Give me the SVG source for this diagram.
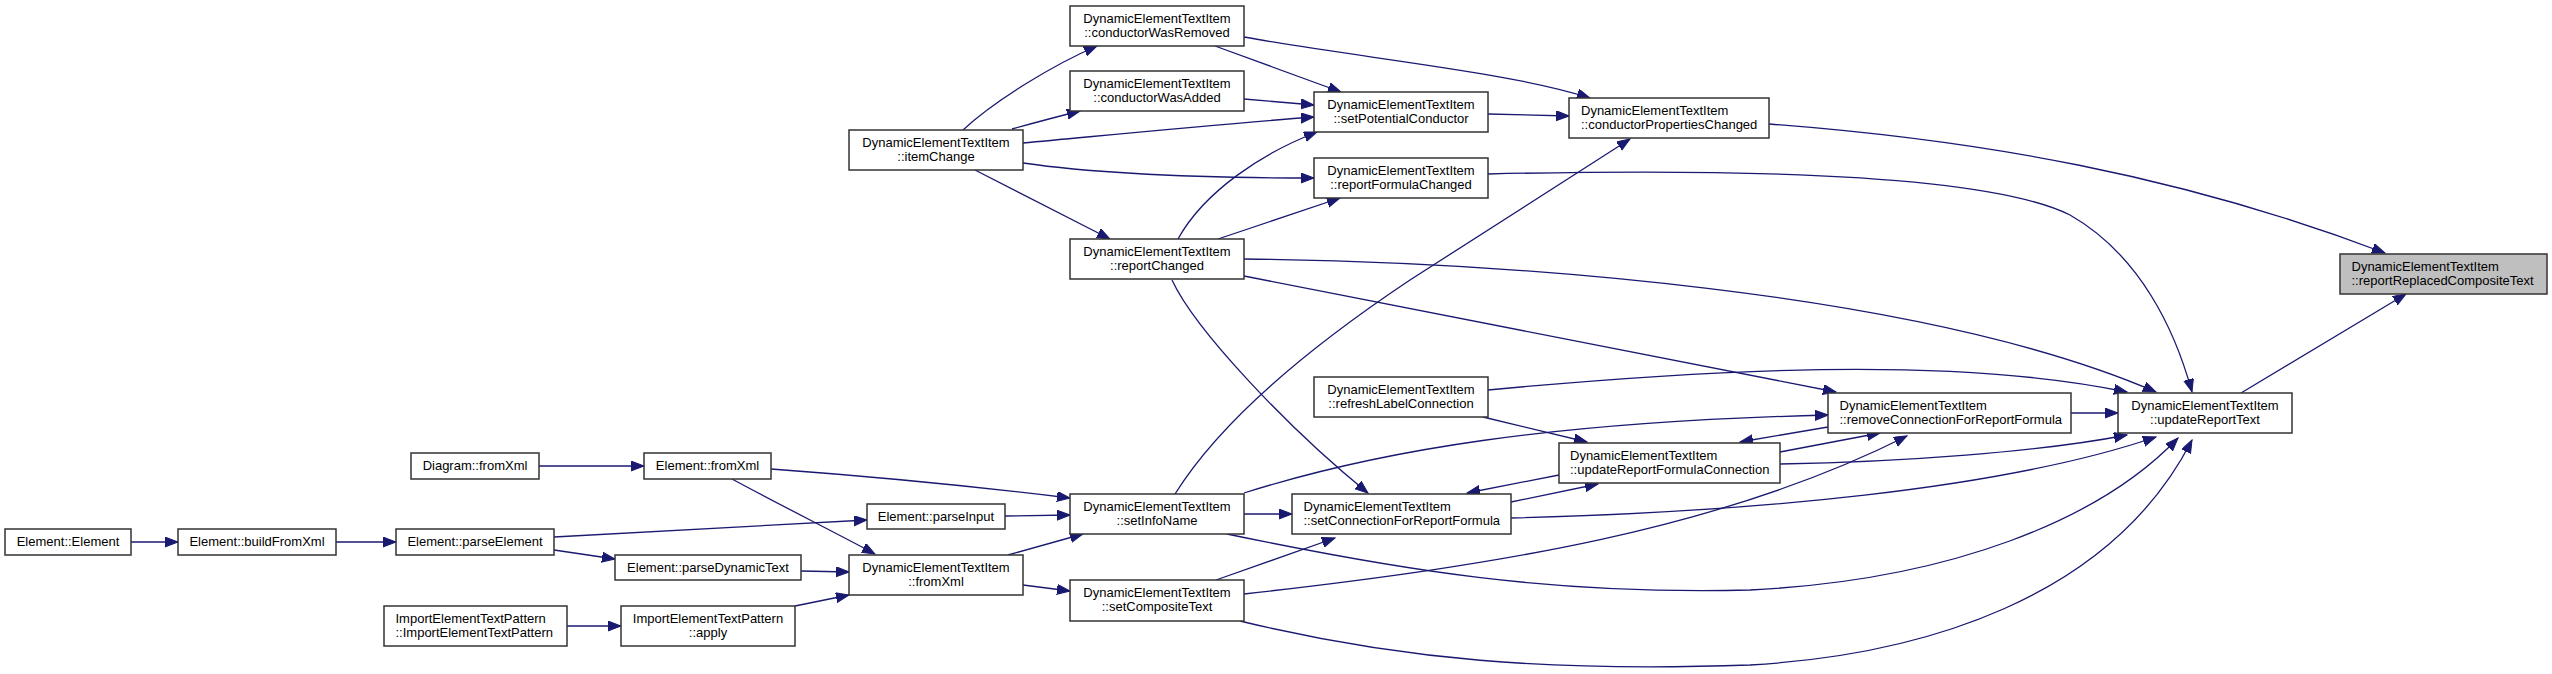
<svg xmlns="http://www.w3.org/2000/svg" width="2552" height="674" viewBox="0 0 2552 674">
<style>
.node rect{fill:#ffffff;stroke:#333333;stroke-width:1.5}
.node.hl rect{fill:#bfbfbf}
text{font-family:"Liberation Sans",Arial,Helvetica,sans-serif;font-size:13px;fill:#000000}
.c{text-anchor:middle}
.l{text-anchor:start}
.edges path{fill:none;stroke:#191970;stroke-width:1.3;marker-end:url(#arr)}
</style>
<defs>
<marker id="arr" markerUnits="userSpaceOnUse" markerWidth="14" markerHeight="11" refX="13" refY="5" orient="auto"><path d="M0,0 L13,5 L0,10 z" fill="#191970" stroke="#191970" stroke-width="1"/></marker>
</defs>
<rect x="0" y="0" width="2552" height="674" fill="#ffffff"/>
<g class="edges" id="edges">
<path d="M963,130 C995,100 1055,64 1097,46"/>
<path d="M1012,129 C1030,124 1060,116 1080,111"/>
<path d="M1023,143 C1120,134 1220,124 1314,117"/>
<path d="M1023,163 C1100,174 1200,178 1314,178"/>
<path d="M975,170 L1110,239"/>
<path d="M1215,46 L1341,92"/>
<path d="M1244,37 C1360,58 1510,72 1590,98"/>
<path d="M1244,99 L1314,105"/>
<path d="M1488,114 L1569,116"/>
<path d="M1178,239 C1205,190 1265,152 1317,132"/>
<path d="M1218,239 L1340,198"/>
<path d="M1244,259 C1500,262 1920,290 2156,392"/>
<path d="M1244,276 L1836,392"/>
<path d="M1172,280 C1195,330 1290,430 1368,493"/>
<path d="M1175,494 C1215,430 1290,360 1410,280 C1490,228 1560,184 1630,139"/>
<path d="M1488,174 C1750,168 1990,175 2070,215 C2140,255 2175,330 2192,392"/>
<path d="M1769,124 C1980,140 2180,175 2385,253"/>
<path d="M1488,390 C1700,370 1950,355 2127,392"/>
<path d="M1483,417 L1587,442"/>
<path d="M1244,493 C1380,450 1550,422 1828,415"/>
<path d="M1828,427 L1740,442"/>
<path d="M1780,452 L1880,433"/>
<path d="M1559,475 L1467,493"/>
<path d="M1511,502 L1598,484"/>
<path d="M1244,594 C1500,565 1720,530 1907,436"/>
<path d="M1511,518 C1750,512 2000,490 2156,437"/>
<path d="M1227,534 C1400,570 1550,595 1750,590 C1950,580 2100,520 2178,438"/>
<path d="M1240,621 C1400,660 1550,672 1750,665 C1920,655 2110,600 2192,440"/>
<path d="M1244,514 L1292,514"/>
<path d="M1216,580 L1335,538"/>
<path d="M771,469 C880,477 980,487 1070,498"/>
<path d="M732,479 C780,505 840,535 875,554"/>
<path d="M539,466 L644,466"/>
<path d="M131,542 L178,542"/>
<path d="M336,542 L396,542"/>
<path d="M554,537 L867,520"/>
<path d="M554,550 L615,559"/>
<path d="M1005,516 L1070,515"/>
<path d="M801,571 L849,572"/>
<path d="M567,626 L621,626"/>
<path d="M795,606 L849,595"/>
<path d="M1008,555 L1083,534"/>
<path d="M1023,585 L1070,591"/>
<path d="M2071,413 L2118,413"/>
<path d="M1780,464 C1900,462 2040,452 2127,435"/>
<path d="M2241,393 L2406,294"/>
</g>
<g id="n1" class="node"><rect x="1070" y="6" width="174" height="40"/><text class="c" x="1157" y="22.5">DynamicElementTextItem</text><text class="c" x="1157" y="37">::conductorWasRemoved</text></g>
<g id="n2" class="node"><rect x="1070" y="71" width="174" height="40"/><text class="c" x="1157" y="87.5">DynamicElementTextItem</text><text class="c" x="1157" y="102">::conductorWasAdded</text></g>
<g id="n3" class="node"><rect x="849" y="130" width="174" height="40"/><text class="c" x="936" y="146.5">DynamicElementTextItem</text><text class="c" x="936" y="161">::itemChange</text></g>
<g id="n4" class="node"><rect x="1314" y="92" width="174" height="40"/><text class="c" x="1401" y="108.5">DynamicElementTextItem</text><text class="c" x="1401" y="123">::setPotentialConductor</text></g>
<g id="n5" class="node"><rect x="1569" y="98" width="200" height="40"/><text class="l" x="1581" y="114.5">DynamicElementTextItem</text><text class="l" x="1581" y="129">::conductorPropertiesChanged</text></g>
<g id="n6" class="node"><rect x="1314" y="158" width="174" height="40"/><text class="c" x="1401" y="174.5">DynamicElementTextItem</text><text class="c" x="1401" y="189">::reportFormulaChanged</text></g>
<g id="n7" class="node"><rect x="1070" y="239" width="174" height="40"/><text class="c" x="1157" y="255.5">DynamicElementTextItem</text><text class="c" x="1157" y="270">::reportChanged</text></g>
<g id="n8" class="node hl"><rect x="2340" y="254" width="207" height="40"/><text class="l" x="2351.5" y="270.5">DynamicElementTextItem</text><text class="l" x="2351.5" y="285">::reportReplacedCompositeText</text></g>
<g id="n9" class="node"><rect x="1314" y="377" width="174" height="40"/><text class="c" x="1401" y="393.5">DynamicElementTextItem</text><text class="c" x="1401" y="408">::refreshLabelConnection</text></g>
<g id="n10" class="node"><rect x="1828" y="393" width="243" height="40"/><text class="l" x="1839.5" y="409.5">DynamicElementTextItem</text><text class="l" x="1839.5" y="424">::removeConnectionForReportFormula</text></g>
<g id="n11" class="node"><rect x="2118" y="393" width="174" height="40"/><text class="c" x="2205" y="409.5">DynamicElementTextItem</text><text class="c" x="2205" y="424">::updateReportText</text></g>
<g id="n12" class="node"><rect x="1559" y="443" width="221" height="40"/><text class="l" x="1570" y="459.5">DynamicElementTextItem</text><text class="l" x="1570" y="474">::updateReportFormulaConnection</text></g>
<g id="n13" class="node"><rect x="411" y="453" width="128" height="26"/><text class="c" x="475" y="470">Diagram::fromXml</text></g>
<g id="n14" class="node"><rect x="644" y="453" width="127" height="26"/><text class="c" x="707.5" y="470">Element::fromXml</text></g>
<g id="n15" class="node"><rect x="1070" y="494" width="174" height="40"/><text class="c" x="1157" y="510.5">DynamicElementTextItem</text><text class="c" x="1157" y="525">::setInfoName</text></g>
<g id="n16" class="node"><rect x="1292" y="494" width="219" height="40"/><text class="l" x="1303.5" y="510.5">DynamicElementTextItem</text><text class="l" x="1303.5" y="525">::setConnectionForReportFormula</text></g>
<g id="n17" class="node"><rect x="867" y="504" width="138" height="25"/><text class="c" x="936" y="521">Element::parseInput</text></g>
<g id="n18" class="node"><rect x="5" y="529" width="126" height="26"/><text class="c" x="68" y="546">Element::Element</text></g>
<g id="n19" class="node"><rect x="178" y="529" width="158" height="26"/><text class="c" x="257" y="546">Element::buildFromXml</text></g>
<g id="n20" class="node"><rect x="396" y="529" width="158" height="26"/><text class="c" x="475" y="546">Element::parseElement</text></g>
<g id="n21" class="node"><rect x="615" y="555" width="186" height="25"/><text class="c" x="708" y="572">Element::parseDynamicText</text></g>
<g id="n22" class="node"><rect x="849" y="555" width="174" height="40"/><text class="c" x="936" y="571.5">DynamicElementTextItem</text><text class="c" x="936" y="586">::fromXml</text></g>
<g id="n23" class="node"><rect x="1070" y="580" width="174" height="41"/><text class="c" x="1157" y="596.5">DynamicElementTextItem</text><text class="c" x="1157" y="611">::setCompositeText</text></g>
<g id="n24" class="node"><rect x="384" y="606" width="183" height="40"/><text class="l" x="395.5" y="622.5">ImportElementTextPattern</text><text class="l" x="395.5" y="637">::ImportElementTextPattern</text></g>
<g id="n25" class="node"><rect x="621" y="606" width="174" height="40"/><text class="c" x="708" y="622.5">ImportElementTextPattern</text><text class="c" x="708" y="637">::apply</text></g>
</svg>
